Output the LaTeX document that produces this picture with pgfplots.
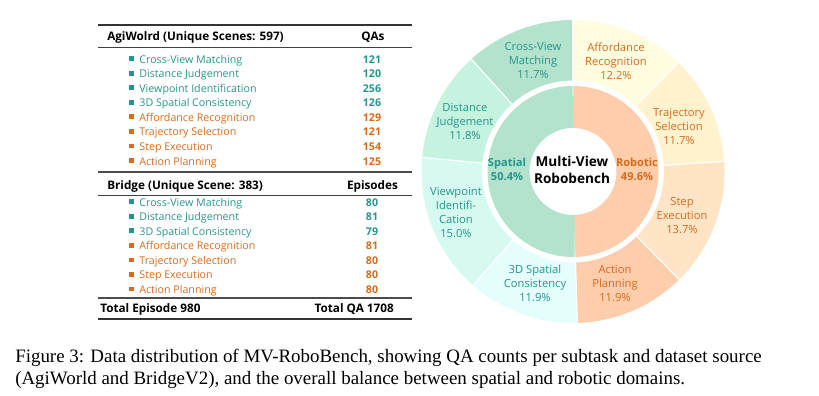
\documentclass[border=0pt]{standalone}
\usepackage{pgfplots}
\pgfplotsset{compat=1.18}
\usepackage{fontspec}
\setmainfont{Liberation Serif}
\newfontfamily\ff{Open Sans}
\definecolor{tealt}{RGB}{38,150,140}
\definecolor{orgt}{RGB}{212,108,30}
\definecolor{cvm}{RGB}{179,226,205}
\definecolor{dju}{RGB}{197,243,224}
\definecolor{vpi}{RGB}{214,250,240}
\definecolor{sco}{RGB}{229,253,251}
\definecolor{afr}{RGB}{255,252,224}
\definecolor{trs}{RGB}{255,243,207}
\definecolor{ste}{RGB}{255,228,198}
\definecolor{acp}{RGB}{253,205,172}
\definecolor{spi}{RGB}{179,226,205}
\definecolor{roi}{RGB}{253,205,172}
% outer sector: start cum%, end cum%, colour
\newcommand\outsec[3]{\addplot[draw=#3, line width=45.375pt, no marks, samples=80, domain=90-3.6036*(#2):90-3.6036*(#1)] ({121.25*cos(x)},{121.25*sin(x)});}
\newcommand\insec[3]{\addplot[draw=#3, line width=31.5pt, no marks, samples=80, domain=90-3.6*(#2):90-3.6*(#1)] ({64.5*cos(x)},{64.5*sin(x)});}
\newcommand\sep[1]{\addplot[draw=white, line width=0.9pt, no marks, samples=2, domain=90.5:152.5] ({x*cos(90-3.6036*(#1))},{x*sin(90-3.6036*(#1))});}
\newcommand\fs{\fontsize{8}{10.5}\selectfont}
\newcommand\ls{\fontsize{8.4}{10.5}\selectfont}
\newcommand\hs{\fontsize{8.8}{10}\selectfont\bfseries}
\newcommand\trow[4]{%
  \node[anchor=base west, inner sep=0, font=\ff\fs, text=#4] at (129,{#1+3.7}) {\rule[0.35ex]{3.6pt}{3.6pt}\hspace{4pt}#2};
  \node[anchor=base, inner sep=0, font=\ff\fs\bfseries, text=#4] at (372,{#1+3.7}) {#3};}
\begin{document}
\begin{tikzpicture}[x=0.75pt,y=-0.75pt]
\path[use as bounding box] (0,0) rectangle (819,396);
% ---------- table ----------
\draw[line width=1.3pt, black!80] (98,25) -- (412,25);
\node[anchor=base west, inner sep=0, font=\ff\hs] at (107,40.8) {AgiWolrd (Unique Scenes: 597)};
\node[anchor=base, inner sep=0, font=\ff\hs] at (373,40.8) {QAs};
\draw[line width=0.7pt, black!75] (98,47.5) -- (412,47.5);
\trow{59.3}{Cross-View Matching}{121}{tealt}
\trow{73.8}{Distance Judgement}{120}{tealt}
\trow{88.3}{Viewpoint Identification}{256}{tealt}
\trow{102.8}{3D Spatial Consistency}{126}{tealt}
\trow{117.5}{Affordance Recognition}{129}{orgt}
\trow{132.1}{Trajectory Selection}{121}{orgt}
\trow{146.7}{Step Execution}{154}{orgt}
\trow{161.3}{Action Planning}{125}{orgt}
\draw[line width=1pt, black!70] (98,172) -- (412,172);
\node[anchor=base west, inner sep=0, font=\ff\hs] at (107,189.2) {Bridge (Unique Scene: 383)};
\node[anchor=base, inner sep=0, font=\ff\hs] at (372.5,189.2) {Episodes};
\draw[line width=0.7pt, black!75] (98,195) -- (412,195);
\trow{202.3}{Cross-View Matching}{80}{tealt}
\trow{216.9}{Distance Judgement}{81}{tealt}
\trow{231.5}{3D Spatial Consistency}{79}{tealt}
\trow{246.1}{Affordance Recognition}{81}{orgt}
\trow{260.6}{Trajectory Selection}{80}{orgt}
\trow{275.1}{Step Execution}{80}{orgt}
\trow{289.7}{Action Planning}{80}{orgt}
\draw[line width=1pt, black!70] (98,298) -- (412,298);
\node[anchor=base west, inner sep=0, font=\ff\hs] at (100,312.5) {Total Episode 980};
\node[anchor=base east, inner sep=0, font=\ff\hs] at (394,312.5) {Total QA 1708};
\draw[line width=1.2pt, black!80] (98,319) -- (412,319);
% ---------- donut ----------
\begin{axis}[at={(429.75pt,-128.625pt)}, anchor=center, x=0.75pt, y=0.75pt,
  xmin=-152, xmax=152, ymin=-152, ymax=152, hide axis, clip=false]
% outer ring (cumulative percentages, clockwise from top)
\outsec{0}{12.2}{afr}
\outsec{12.2}{23.9}{trs}
\outsec{23.9}{37.6}{ste}
\outsec{37.6}{49.5}{acp}
\outsec{49.5}{61.4}{sco}
\outsec{61.4}{76.4}{vpi}
\outsec{76.4}{88.2}{dju}
\outsec{88.2}{99.9}{cvm}
\sep{0}\sep{12.2}\sep{23.9}\sep{37.6}\sep{49.5}\sep{61.4}\sep{76.4}\sep{88.2}
% inner ring
\insec{0}{49.6}{roi}
\insec{49.6}{100}{spi}
\end{axis}
% ---------- donut labels ----------
\begin{scope}[every node/.style={font=\ff\ls, align=center, inner sep=0}]
\node[text=tealt] at (533,60) {Cross-View\\Matching\\11.7\%};
\node[text=tealt] at (465,121) {Distance\\Judgement\\11.8\%};
\node[text=tealt] at (456,212) {Viewpoint\\Identifi-\\Cation\\15.0\%};
\node[text=tealt] at (535,283) {3D Spatial\\Consistency\\11.9\%};
\node[text=orgt] at (616,61) {Affordance\\Recognition\\12.2\%};
\node[text=orgt] at (679,126.5) {Trajectory\\Selection\\11.7\%};
\node[text=orgt] at (682,216) {Step\\Execution\\13.7\%};
\node[text=orgt] at (615,283) {Action\\Planning\\11.9\%};
\node[text=tealt, font=\ff\fontsize{8.3}{10.3}\selectfont\bfseries] at (507,169.5) {Spatial\\50.4\%};
\node[text=orgt, font=\ff\fontsize{8.3}{10.3}\selectfont\bfseries] at (637,169.5) {Robotic\\49.6\%};
\node[text=black, font=\ff\fontsize{10.2}{12.5}\selectfont\bfseries] at (572,170) {Multi-View\\Robobench};
\end{scope}
% ---------- caption ----------
\node[anchor=base west, inner sep=0, font=\fontsize{14.2}{17}\selectfont] at (15,362) {Figure 3: Data distribution of MV-RoboBench, showing QA counts per subtask and dataset source};
\node[anchor=base west, inner sep=0, font=\fontsize{14.2}{17}\selectfont] at (15,384) {(AgiWorld and BridgeV2), and the overall balance between spatial and robotic domains.};
\end{tikzpicture}
\end{document}
